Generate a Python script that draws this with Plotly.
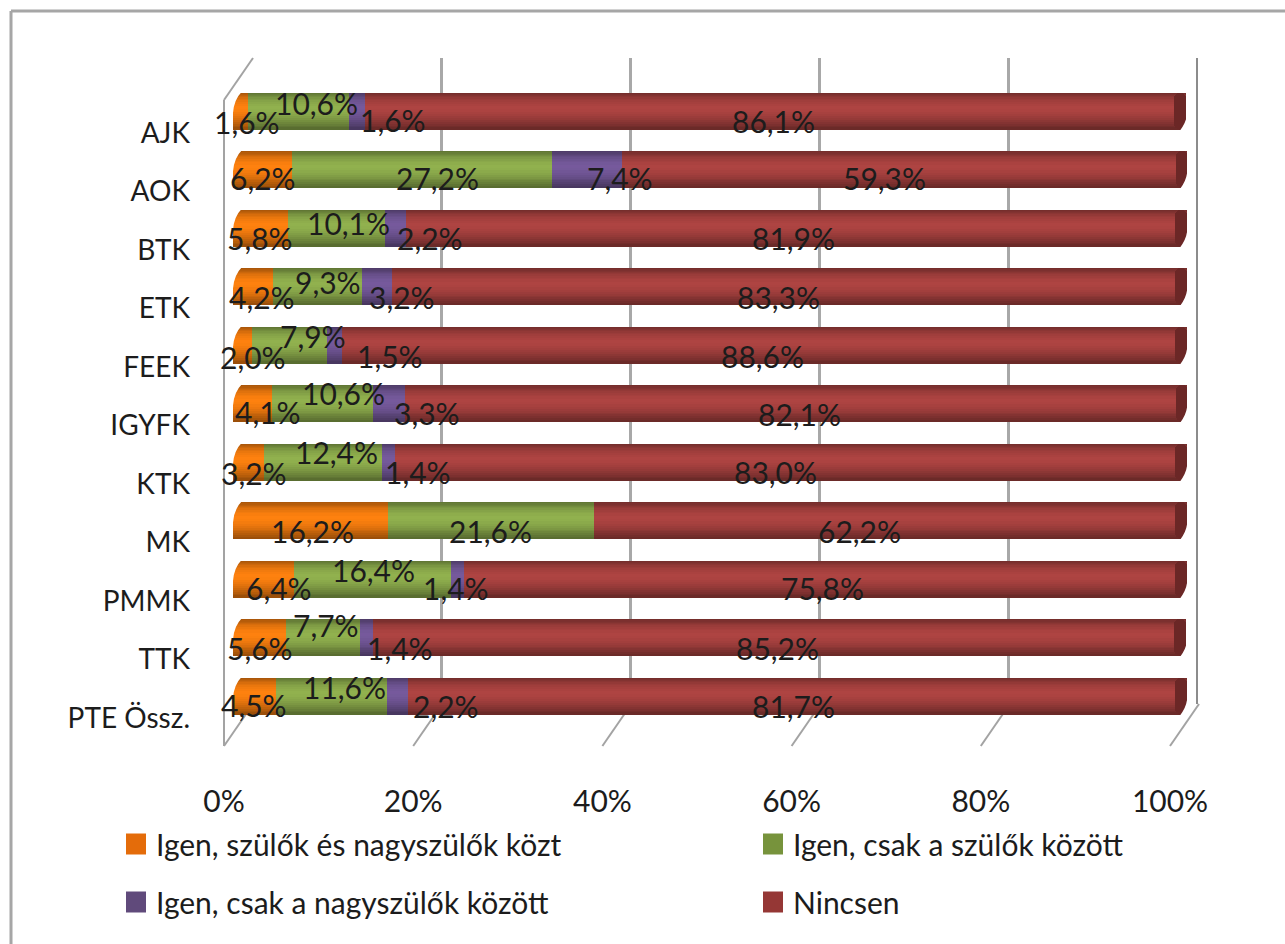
import plotly.graph_objects as go

W, H = 1285, 944
FONT = "Lato"
INK = "#1c1c1c"

CATEGORIES = ["AJK", "AOK", "BTK", "ETK", "FEEK", "IGYFK", "KTK", "MK", "PMMK", "TTK", "PTE Össz."]
SERIES_NAMES = ["Igen, szülők és nagyszülők közt", "Igen, csak a szülők között",
                "Igen, csak a nagyszülők között", "Nincsen"]
BOTH = [1.6, 6.2, 5.8, 4.2, 2.0, 4.1, 3.2, 16.2, 6.4, 5.6, 4.5]
PARENTS = [10.6, 27.2, 10.1, 9.3, 7.9, 10.6, 12.4, 21.6, 16.4, 7.7, 11.6]
GRANDPARENTS = [1.6, 7.4, 2.2, 3.2, 1.5, 3.3, 1.4, None, 1.4, 1.4, 2.2]
NONE_ = [86.1, 59.3, 81.9, 83.3, 88.6, 82.1, 83.0, 62.2, 75.8, 85.2, 81.7]
SERIES = [BOTH, PARENTS, GRANDPARENTS, NONE_]
BASE_RGB = [(244, 124, 14), (139, 170, 75), (113, 86, 150), (167, 65, 63)]
SWATCH = ["#E46C0A", "#77933C", "#604A7B", "#953735"]
XTICKS = [0, 20, 40, 60, 80, 100]

# label nudges in pixels from each segment's centre (3-D text placement of the original)
DX = [[6, 18, 36, -2], [0, 16, 33, -21], [-1, 12, 35, -3], [9, 11, 25, -11], [10, 23, 55, -2],
      [15, 21, 38, 3], [6, 14, 29, -16], [2, 0, 0, -31], [15, 1, -1, -3], [0, 3, 33, -2], [0, 13, 49, -4]]
DY = [[11, -8, 9, 10], [9, 9, 9, 9], [10, -5, 10, 10], [10, -5, 10, 10], [12, -9, 11, 11],
      [8, -11, 9, 10], [11, -10, 10, 10], [10, 10, 10, 10], [9, -9, 9, 9], [10, -13, 10, 10], [9, -9, 10, 10]]

# cylinder shading: (start within the bar 0..1, brightness)
BANDS = [(0, .70), (.03, .74), (.06, .78), (.09, .83), (.12, .88), (.16, .92), (.20, .96), (.25, .99),
         (.30, 1.02), (.36, 1.04), (.44, 1.03), (.52, 1.0), (.58, .97), (.64, .93), (.69, .89), (.74, .84),
         (.79, .79), (.84, .74), (.89, .69), (.94, .64)]
THICK = 0.63
CAP = 1.3

BAR_LEFT, BAR_RIGHT = 233, 1187
ROW0, ROW_STEP = 111, 58.5
BAR_PX = 37


def px(x):
    return x / W


def py(y):
    return 1 - y / H


def shade(rgb, k):
    return "rgb(%d,%d,%d)" % tuple(min(255, round(c * k)) for c in rgb)


def fmt(v):
    return f"{v:.1f}".replace(".", ",") + "%"


bases = []
running = [0.0] * len(CATEGORIES)
for s in SERIES:
    bases.append(list(running))
    running = [r + (v or 0) for r, v in zip(running, s)]
totals = running

fig = go.Figure()

# back wall grid: first subplot, so it lies under the bars
fig.add_trace(go.Scatter(x=XTICKS, y=[None] * 6, xaxis="x", yaxis="y", showlegend=False, hoverinfo="skip"))
# carriers for the offset category labels and percent labels
fig.add_trace(go.Scatter(x=XTICKS, y=[None] * 6, xaxis="x2", yaxis="y2", showlegend=False, hoverinfo="skip"))
fig.add_trace(go.Scatter(x=[None] * 11, y=CATEGORIES, xaxis="x2", yaxis="y2", showlegend=False, hoverinfo="skip"))

for start, k in BANDS:
    for s, b, rgb in zip(SERIES, bases, BASE_RGB):
        fig.add_trace(go.Bar(
            y=CATEGORIES, x=s, base=b, orientation="h", showlegend=False, hoverinfo="skip",
            offset=-THICK / 2 + start * THICK, width=THICK * (1 - start),
            marker=dict(color=shade(rgb, k), line=dict(width=0)),
            xaxis="x3", yaxis="y3"))

# rounded dark end of the cylinder
fig.add_trace(go.Bar(
    y=CATEGORIES, x=[CAP] * len(CATEGORIES), base=[t - CAP for t in totals], orientation="h",
    showlegend=False, hoverinfo="skip", offset=-THICK / 2, width=THICK,
    marker=dict(color="#6B2726", line=dict(width=0), cornerradius=6),
    xaxis="x3", yaxis="y3"))

annotations = []
for i, cat in enumerate(CATEGORIES):
    for j, s in enumerate(SERIES):
        v = s[i]
        if v is None:
            continue
        annotations.append(dict(
            x=bases[j][i] + v / 2, y=cat, xref="x3", yref="y3", xshift=DX[i][j], yshift=-DY[i][j],
            text=fmt(v), showarrow=False, xanchor="center", yanchor="middle",
            font=dict(family=FONT, size=30, color=INK)))

LEGEND_POS = [(126, 844), (763, 844), (126, 902), (763, 902)]
shapes = []
for name, color, (lx, ly) in zip(SERIES_NAMES, SWATCH, LEGEND_POS):
    shapes.append(dict(type="rect", xref="paper", yref="paper", x0=px(lx), x1=px(lx + 20),
                       y0=py(ly - 10.5), y1=py(ly + 10.5), fillcolor=color, line=dict(width=0), layer="above"))
    annotations.append(dict(x=px(lx + 28), y=py(ly), xref="paper", yref="paper", text=name, showarrow=False,
                            xanchor="left", yanchor="middle", font=dict(family=FONT, size=30, color=INK)))

LINE = dict(color="#a3a3a3", width=2)
# outer frame
shapes.append(dict(type="line", xref="paper", yref="paper", x0=px(11), x1=px(11), y0=py(11), y1=0,
                   line=dict(color="#a6a6a6", width=3)))
shapes.append(dict(type="line", xref="paper", yref="paper", x0=px(11), x1=1, y0=py(11), y1=py(11),
                   line=dict(color="#a6a6a6", width=3)))
# side wall and floor diagonals
SHIFT_X, SHIFT_Y = 29, 42
FRONT0, STEP = 224.0, 9.46
shapes.append(dict(type="line", xref="paper", yref="paper", x0=px(FRONT0), x1=px(FRONT0), y0=py(100), y1=py(746),
                   line=LINE, layer="below"))
shapes.append(dict(type="line", xref="paper", yref="paper", x0=px(FRONT0), x1=px(FRONT0 + SHIFT_X),
                   y0=py(100), y1=py(100 - SHIFT_Y), line=LINE, layer="below"))
for t in XTICKS:
    fx = FRONT0 + STEP * t
    shapes.append(dict(type="line", xref="paper", yref="paper", x0=px(fx), x1=px(fx + SHIFT_X),
                       y0=py(746), y1=py(746 - SHIFT_Y), line=LINE, layer="below"))
# right edge of the back wall is thinner and darker
shapes.append(dict(type="line", xref="paper", yref="paper", x0=px(1197), x1=px(1197), y0=py(58), y1=py(704),
                   line=dict(color="#8c8c8c", width=2), layer="below"))

# white wedges that round the two ends of each cylinder
for i in range(len(CATEGORIES)):
    top = ROW0 + i * ROW_STEP - BAR_PX / 2
    mid = top + BAR_PX / 2
    bot = top + BAR_PX
    l, r = BAR_LEFT, BAR_RIGHT
    p = lambda x, y: f"{px(x):.5f},{py(y):.5f}"
    left = f"M{p(l - 2, top - 1)} L{p(l + 9, top - 1)} Q{p(l + 1, top + 7)} {p(l, mid + 2)} L{p(l - 2, mid + 2)} Z"
    right = f"M{p(r + 2, bot + 1)} L{p(r - 7, bot + 1)} Q{p(r - 1, bot - 7)} {p(r, mid + 4)} L{p(r + 2, mid + 4)} Z"
    for path in (left, right):
        shapes.append(dict(type="path", xref="paper", yref="paper", path=path, fillcolor="white",
                           line=dict(width=0), layer="above"))

fig.update_layout(
    width=W, height=H, margin=dict(l=0, r=0, t=0, b=0, autoexpand=False), autosize=False,
    paper_bgcolor="white", plot_bgcolor="rgba(0,0,0,0)", barmode="overlay", bargap=0,
    showlegend=False, annotations=annotations, shapes=shapes,
    font=dict(family=FONT, size=30, color=INK),
    xaxis=dict(domain=[px(253), px(1197)], range=[0, 100], anchor="y", tickmode="array", tickvals=XTICKS[:-1],
               showgrid=True, gridcolor="#a8a8a8", gridwidth=3, showticklabels=False, ticks="",
               showline=False, zeroline=False),
    yaxis=dict(domain=[py(704), py(58)], range=[0, 1], visible=False, anchor="x"),
    xaxis2=dict(domain=[px(224), px(1170)], range=[0, 100], anchor="free", position=py(781),
                tickmode="array", tickvals=XTICKS, ticktext=[f"{t}%" for t in XTICKS],
                showgrid=False, showline=False, ticks="", zeroline=False, side="bottom",
                tickfont=dict(family=FONT, size=30, color=INK)),
    yaxis2=dict(domain=[py(747.25), py(103.75)], type="category", categoryorder="array",
                categoryarray=CATEGORIES, range=[10.5, -0.5], anchor="free", position=px(190),
                showgrid=False, showline=False, ticks="", zeroline=False,
                tickfont=dict(family=FONT, size=28, color=INK)),
    xaxis3=dict(domain=[px(BAR_LEFT), px(BAR_RIGHT)], range=[0, 100], visible=False, anchor="y3"),
    yaxis3=dict(domain=[py(725.25), py(81.75)], type="category", categoryorder="array",
                categoryarray=CATEGORIES, range=[10.5, -0.5], visible=False, anchor="x3"),
)

fig.write_html("out.html", post_script="document.body.style.margin='0';", config={"displayModeBar": False})
